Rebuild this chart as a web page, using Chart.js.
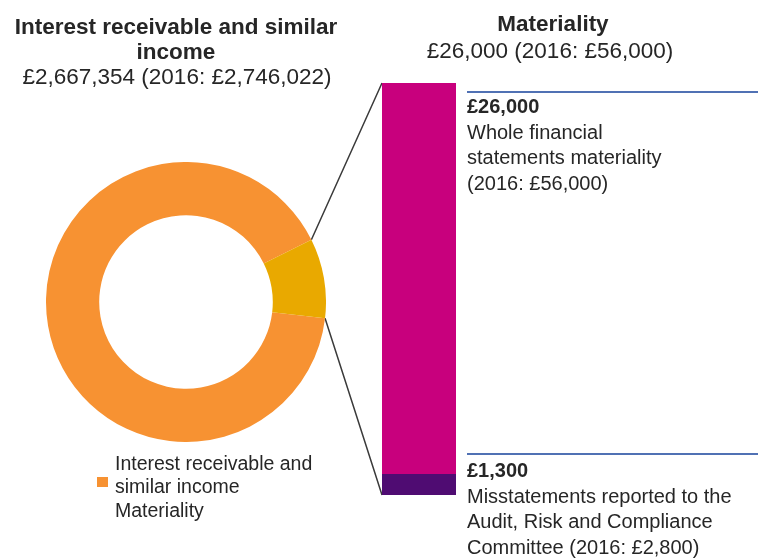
<!DOCTYPE html>
<html>
<head>
<meta charset="utf-8">
<script src="https://cdn.jsdelivr.net/npm/chart.js@4/dist/chart.umd.min.js"></script>
<style>
  html, body { margin: 0; padding: 0; background: #fff; }
  #stage { position: relative; width: 758px; height: 559px; overflow: hidden;
           font-family: "Liberation Sans", Arial, sans-serif; color: #262626; }
  #stage canvas { position: absolute; }
  .txt { position: absolute; white-space: nowrap; }
  .rule { position: absolute; height: 2px; background: #5071b4; }
  .swatch { position: absolute; width: 11px; height: 10px; background: #f79232; }
</style>
</head>
<body>
<div id="stage">
  <canvas id="links" width="758" height="559" style="left:0;top:0"></canvas>
  <canvas id="donut" width="280" height="280" style="left:46px;top:162px"></canvas>
  <canvas id="bar" width="94" height="432" style="left:372px;top:73px"></canvas>
  <div class="rule" style="left:467px;top:91px;width:291px"></div>
  <div class="rule" style="left:467px;top:453px;width:291px"></div>
  <div class="swatch" style="left:97px;top:477px"></div>
</div>
<script>
// Ring: interest income with the materiality slice picked out
const ringLabels = ['Interest receivable and similar income', 'Materiality'];
const ringShare = [90.8, 9.2];               // share of the ring, per cent
const interestIncome = [2667354, 2746022];   // current year, 2016

// Column: materiality and reported misstatements
const columnLabels = ['Whole financial statements materiality',
                      'Misstatements reported to the Audit, Risk and Compliance Committee'];
const columnValues = [26000, 1300];
const priorYearValues = [56000, 2800];

const ringColors = ['#f79232', '#e9a900'];
const columnColors = ['#c8007d', '#4f0c72'];

const gbp = v => '£' + v.toLocaleString('en-GB');

// ---- text ----
const stage = document.getElementById('stage');
function line(text, x, cy, size, bold, center) {
  const d = document.createElement('div');
  d.className = 'txt';
  const lh = Math.round(size * 1.2);
  d.style.fontSize = size + 'px';
  d.style.lineHeight = lh + 'px';
  d.style.top = (cy - lh / 2) + 'px';
  if (bold) d.style.fontWeight = 'bold';
  if (center) {
    d.style.left = (x - 250) + 'px';
    d.style.width = '500px';
    d.style.textAlign = 'center';
  } else {
    d.style.left = x + 'px';
  }
  d.textContent = text;
  stage.appendChild(d);
}

line('Interest receivable and similar', 176, 26, 22.5, true, true);
line('income', 176, 51, 22.5, true, true);
line(gbp(interestIncome[0]) + ' (2016: ' + gbp(interestIncome[1]) + ')', 177, 76.5, 22.5, false, true);

line('Materiality', 553, 23, 22.5, true, true);
line(gbp(columnValues[0]) + ' (2016: ' + gbp(priorYearValues[0]) + ')', 550, 50, 22.5, false, true);

line(gbp(columnValues[0]), 467, 106, 20, true);
line('Whole financial', 467, 131.5, 20);
line('statements materiality', 467, 157, 20);
line('(2016: ' + gbp(priorYearValues[0]) + ')', 467, 183, 20);

line(gbp(columnValues[1]), 467, 470, 20, true);
line('Misstatements reported to the', 467, 495.5, 20);
line('Audit, Risk and Compliance', 467, 521, 20);
line('Committee (2016: ' + gbp(priorYearValues[1]) + ')', 467, 546.5, 20);

line('Interest receivable and', 115, 463, 19.5);
line('similar income', 115, 486.5, 19.5);
line(ringLabels[1], 115, 510, 19.5);

// ---- charts ----
const ring = new Chart(document.getElementById('donut'), {
  type: 'doughnut',
  data: {
    labels: ringLabels,
    datasets: [{ data: ringShare, backgroundColor: ringColors, borderWidth: 0 }]
  },
  options: {
    responsive: false,
    animation: false,
    cutout: '62%',
    rotation: 96.7,
    plugins: { legend: { display: false }, tooltip: { enabled: false } }
  }
});

const column = new Chart(document.getElementById('bar'), {
  type: 'bar',
  data: {
    labels: ['Materiality'],
    datasets: [
      { label: columnLabels[1], data: [columnValues[1]], backgroundColor: columnColors[1] },
      { label: columnLabels[0], data: [columnValues[0]], backgroundColor: columnColors[0] }
    ]
  },
  options: {
    responsive: false,
    animation: false,
    layout: { padding: 10 },
    datasets: { bar: { barPercentage: 1, categoryPercentage: 1, borderWidth: 0 } },
    scales: {
      x: { display: false, stacked: true },
      y: { display: false, stacked: false, min: 0, max: columnValues[0] }
    },
    plugins: { legend: { display: false }, tooltip: { enabled: false } }
  }
});

// ---- connectors from the materiality slice to the column ----
function drawLinks() {
  const ctx = document.getElementById('links').getContext('2d');
  const dc = document.getElementById('donut'), bc = document.getElementById('bar');
  const ox = dc.offsetLeft, oy = dc.offsetTop, bx = bc.offsetLeft, by = bc.offsetTop;
  const arc = ring.getDatasetMeta(0).data[1];
  const bar = column.getDatasetMeta(1).data[0];
  const left = bar.x - bar.width / 2 + bx;
  const top = bar.y + by, bottom = bar.base + by;
  const p1 = [arc.x + ox + arc.outerRadius * Math.cos(arc.startAngle),
              arc.y + oy + arc.outerRadius * Math.sin(arc.startAngle)];
  const p2 = [arc.x + ox + arc.outerRadius * Math.cos(arc.endAngle),
              arc.y + oy + arc.outerRadius * Math.sin(arc.endAngle)];
  ctx.strokeStyle = '#3a3a3a';
  ctx.lineWidth = 1.5;
  ctx.beginPath();
  ctx.moveTo(p1[0], p1[1]); ctx.lineTo(left, top);
  ctx.moveTo(p2[0], p2[1]); ctx.lineTo(left, bottom);
  ctx.stroke();
}
drawLinks();
</script>
</body>
</html>
